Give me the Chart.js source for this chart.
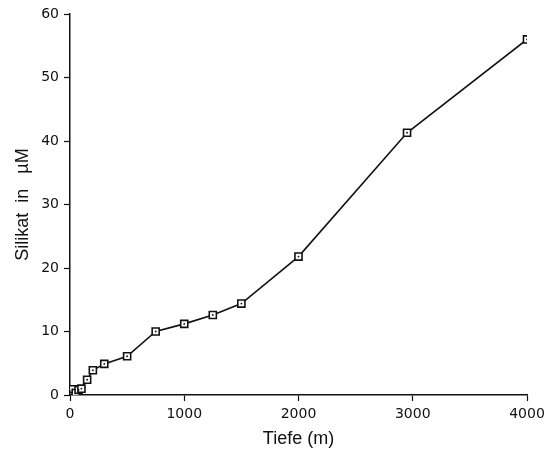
<!DOCTYPE html>
<html>
<head>
<meta charset="utf-8">
<script src="https://cdn.jsdelivr.net/npm/chart.js@4"></script>
<style>
  html, body { margin: 0; padding: 0; background: #fff; }
  #wrap { width: 544px; height: 450px; }
</style>
</head>
<body>
<div id="wrap"><canvas id="chart"></canvas></div>
<script>
// Depth (m) and silicate (µM)
const depths = [0, 25, 50, 75, 100, 150, 200, 300, 500, 750, 1000, 1250, 1500, 2000, 2950, 4000];
const silicate = [0.6, 0.9, 0.3, 0.8, 1.0, 2.4, 3.9, 4.9, 6.1, 10.0, 11.2, 12.6, 14.4, 21.8, 41.3, 56.0];
const xTicks = [0, 1000, 2000, 3000, 4000];
const yTicks = [0, 10, 20, 30, 40, 50, 60];

const points = depths.map((d, i) => ({x: d, y: silicate[i]}));
const ink = '#111';
const tickFont = {family: "'DejaVu Sans', sans-serif", size: 14};
const titleFont = {family: "'Liberation Sans', Arial, sans-serif", size: 18};

new Chart(document.getElementById('chart'), {
  type: 'scatter',
  data: {
    datasets: [
      {
        // square markers with the line
        data: points,
        showLine: true,
        borderColor: ink,
        borderWidth: 1.6,
        pointStyle: 'rect',
        pointRadius: 5,
        pointBorderWidth: 1.6,
        pointBorderColor: ink,
        pointBackgroundColor: '#fff',
        order: 2
      },
      {
        // small dot in the middle of each square
        data: points,
        showLine: false,
        pointStyle: 'circle',
        pointRadius: 0.9,
        pointBorderWidth: 0,
        pointBackgroundColor: ink,
        order: 1
      }
    ]
  },
  options: {
    responsive: true,
    maintainAspectRatio: false,
    animation: false,
    layout: {padding: {top: 14, right: 17, bottom: 0, left: 0}},
    plugins: {
      legend: {display: false},
      tooltip: {enabled: false}
    },
    scales: {
      x: {
        type: 'linear',
        min: 0,
        max: 4000,
        afterBuildTicks: (scale) => { scale.ticks = xTicks.map(v => ({value: v})); },
        afterFit: (scale) => {
          scale.height = 55;
          // let the last label overhang the padding, as in the original
          scale.paddingRight = 0;
          scale.paddingLeft = 0;
        },
        ticks: {color: ink, font: tickFont, padding: 5, maxRotation: 0, callback: (v) => String(v)},
        grid: {drawOnChartArea: false, tickLength: 6, tickColor: ink, tickWidth: 1.2},
        border: {color: ink, width: 1.5},
        title: {display: true, text: 'Tiefe (m)', color: ink, font: titleFont, padding: {top: 2, bottom: 0}}
      },
      y: {
        type: 'linear',
        min: 0,
        max: 60,
        afterBuildTicks: (scale) => { scale.ticks = yTicks.map(v => ({value: v})); },
        afterFit: (scale) => { scale.width = 70; },
        ticks: {color: ink, font: tickFont, padding: 5, callback: (v) => String(v)},
        grid: {drawOnChartArea: false, tickLength: 6, tickColor: ink, tickWidth: 1.2},
        border: {color: ink, width: 1.5},
        title: {display: true, text: 'Silikat  in   µM', color: ink, font: titleFont, padding: {top: 12, bottom: 0}}
      }
    }
  }
});
</script>
</body>
</html>
